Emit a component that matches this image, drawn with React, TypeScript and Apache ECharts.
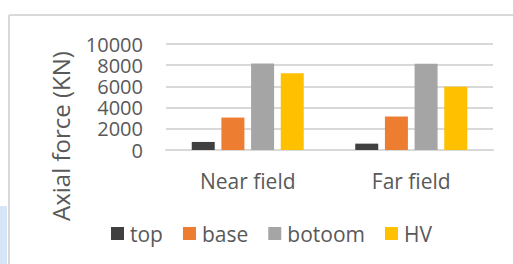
import React, { useEffect, useRef } from "react";
import * as echarts from "echarts";

const categories = ["Near field", "Far field"];
const seriesNames = ["top", "base", "botoom", "HV"];
const topValues = [760, 600];
const baseValues = [3060, 3160];
const botoomValues = [8170, 8140];
const hvValues = [7250, 5960];
const colors = ["#404040", "#ED7D31", "#A5A5A5", "#FFC000"];
const yTitle = "Axial force (KN)";

export default function App() {
  const ref = useRef<HTMLDivElement>(null);
  useEffect(() => {
    if (!ref.current) return;
    const chart = echarts.init(ref.current, null, { renderer: "svg" });
    const font = "'Open Sans', sans-serif";
    const dataSets = [topValues, baseValues, botoomValues, hvValues];
    chart.setOption({
      animation: false,
      backgroundColor: "#ffffff",
      graphic: [
        { type: "rect", left: 0, top: 206, shape: { width: 7, height: 58 }, style: { fill: "#D6E6F8" } },
        { type: "line", shape: { x1: 9, y1: 15, x2: 513, y2: 15 }, style: { stroke: "#D9D9D9", lineWidth: 2 } },
        { type: "line", shape: { x1: 9, y1: 15, x2: 9, y2: 264 }, style: { stroke: "#D9D9D9", lineWidth: 2 } },
        {
          type: "text",
          x: 60,
          y: 136,
          rotation: Math.PI / 2,
          style: {
            text: yTitle,
            fontFamily: font,
            fontSize: 24,
            fill: "#595959",
            align: "center",
            verticalAlign: "middle",
          },
        },
      ],
      grid: { left: 166, right: 20, top: 44, bottom: 114, containLabel: false },
      legend: {
        data: seriesNames,
        left: 111,
        top: 223,
        padding: 0,
        itemWidth: 13,
        itemHeight: 13,
        itemGap: 20,
        icon: "rect",
        textStyle: { fontFamily: font, fontSize: 21, color: "#595959", padding: [0, 0, 0, 1] },
      },
      xAxis: {
        type: "category",
        data: categories,
        axisLine: { show: true, lineStyle: { color: "#D9D9D9", width: 2 } },
        axisTick: { show: false },
        axisLabel: { fontFamily: font, fontSize: 21, color: "#595959", margin: 20 },
      },
      yAxis: {
        type: "value",
        min: 0,
        max: 10000,
        interval: 2000,
        axisLine: { show: false },
        axisTick: { show: false },
        splitLine: { lineStyle: { color: "#D9D9D9", width: 2 } },
        axisLabel: {
          fontFamily: font,
          fontSize: 20,
          lineHeight: 18,
          color: "#595959",
          margin: 23,
          formatter: (v: number) => String(v),
        },
      },
      series: seriesNames.map((n, i) => ({
        name: n,
        type: "bar",
        data: dataSets[i],
        barWidth: 23,
        barGap: "29%",
        itemStyle: { color: colors[i] },
      })),
    });
    return () => chart.dispose();
  }, []);
  return <div ref={ref} style={{ width: 513, height: 264, position: "absolute", left: 0, top: 0 }} />;
}
